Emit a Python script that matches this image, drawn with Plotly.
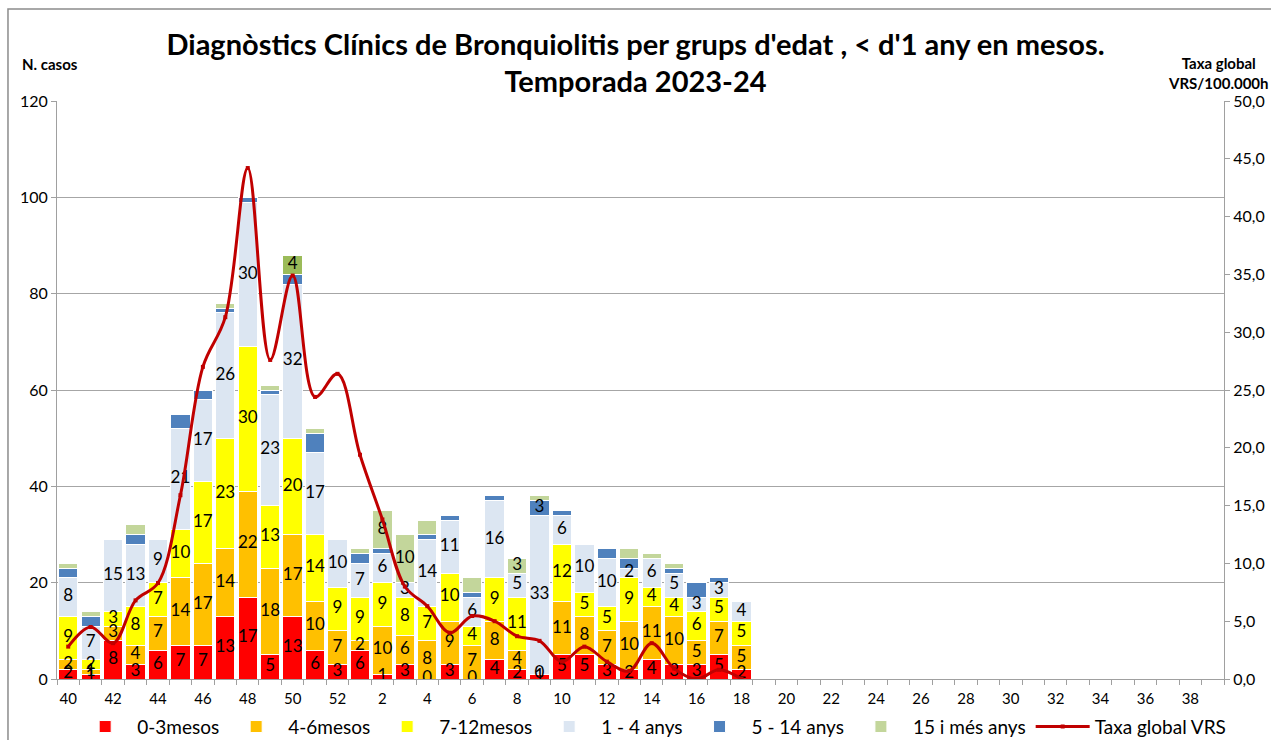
import plotly.graph_objects as go

# setmanes epidemiològiques 40-52 i 1-39
weeks = [str(w) for w in range(40, 53)] + [str(w) for w in range(1, 40)]

# casos per grup d'edat (setmanes 40 a 18)
m0_3 = [2, 1, 8, 3, 6, 7, 7, 13, 17, 5, 13, 6, 3, 6, 1, 3, 0, 3, 0, 4, 2, 1, 5, 5, 3, 2, 4, 3, 3, 5, 2]
m4_6 = [2, 1, 3, 4, 7, 14, 17, 14, 22, 18, 17, 10, 7, 2, 10, 6, 8, 9, 7, 8, 4, 0, 11, 8, 7, 10, 11, 10, 5, 7, 5]
m7_12 = [9, 2, 3, 8, 7, 10, 17, 23, 30, 13, 20, 14, 9, 9, 9, 8, 7, 10, 4, 9, 11, 0, 12, 5, 5, 9, 4, 4, 6, 5, 5]
a1_4 = [8, 7, 15, 13, 9, 21, 17, 26, 30, 23, 32, 17, 10, 7, 6, 3, 14, 11, 6, 16, 5, 33, 6, 10, 10, 2, 6, 5, 3, 3, 4]
a5_14 = [2, 2, 0, 2, 0, 3, 2, 1, 1, 1, 2, 4, 0, 2, 1, 0, 1, 1, 1, 1, 0, 3, 1, 0, 2, 2, 0, 1, 3, 1, 0]
a15 = [1, 1, 0, 2, 0, 0, 0, 1, 0, 1, 4, 1, 0, 1, 8, 10, 3, 0, 3, 0, 3, 1, 0, 0, 0, 2, 1, 1, 0, 0, 0]

# taxa global VRS /100.000h
taxa = [2.8, 4.5, 3.1, 6.8, 8.3, 15.9, 27.0, 31.3, 44.2, 27.6, 34.9, 24.4, 26.4, 19.4, 13.8, 8.0,
        6.3, 4.0, 5.45, 5.0, 3.7, 3.3, 1.5, 2.8, 1.5, 0.7, 3.1, 0.9, 0.0, 0.8, 0.0]

# etiquetes visibles per als grups petits
label_weeks_5_14 = ["9"]
label_weeks_15 = ["50", "2", "3", "8"]
hide_label_7_12 = ["9"]

series = [
    ("0-3mesos", m0_3, "#FF0000"),
    ("4-6mesos", m4_6, "#FFC000"),
    ("7-12mesos", m7_12, "#FFFF00"),
    ("1 - 4 anys", a1_4, "#DCE6F2"),
    ("5 - 14 anys", a5_14, "#4F81BD"),
    ("15 i més anys", a15, "#C3D69B"),
]

n = len(m0_3)
xs = list(range(n))
font = "Lato, 'Open Sans', sans-serif"

fig = go.Figure()
base = [0] * n
lab_x, lab_y, lab_t = [], [], []
for name, vals, col in series:
    colors = [col] * n
    if name == "15 i més anys":
        colors[weeks.index("50")] = "#9BBB59"
    fig.add_trace(go.Bar(x=xs, y=vals, name=name, marker=dict(color=colors, line=dict(color="white", width=1)),
                         hoverinfo="skip"))
    for i in range(n):
        wk = weeks[i]
        show = True
        if name == "5 - 14 anys":
            show = wk in label_weeks_5_14
        elif name == "15 i més anys":
            show = wk in label_weeks_15
        elif name == "7-12mesos":
            show = wk not in hide_label_7_12
        if show:
            lab_x.append(i)
            lab_y.append(base[i] + vals[i] / 2)
            lab_t.append(str(vals[i]))
        base[i] += vals[i]

fig.add_trace(go.Scatter(x=lab_x, y=lab_y, text=lab_t, mode="text", showlegend=False,
                         textfont=dict(size=17, color="black", family=font), hoverinfo="skip"))

fig.add_trace(go.Scatter(x=xs, y=taxa, name="Taxa global VRS", yaxis="y2", mode="lines+markers",
                         line=dict(color="#C00000", width=3, shape="spline", smoothing=1.0),
                         marker=dict(size=4, symbol="square", color="#C00000")))

tickvals = [i for i, w in enumerate(weeks) if int(w) % 2 == 0]
ticktext = [weeks[i] for i in tickvals]

fig.update_layout(
    width=1271, height=740,
    barmode="stack", bargap=0.14,
    plot_bgcolor="white", paper_bgcolor="white",
    font=dict(family=font, size=15, color="black"),
    margin=dict(l=57, r=47, t=101, b=61, autoexpand=False),
    title=dict(text="<b>Diagnòstics Clínics de Bronquiolitis per grups d'edat , < d'1 any en mesos.<br>Temporada 2023-24</b>",
               x=0.5, xanchor="center", xref="container", yref="container", y=0.926, yanchor="top",
               font=dict(size=29, family=font)),
    separators=",.",
    xaxis=dict(range=[-0.5, len(weeks) - 0.5], tickvals=tickvals, ticktext=ticktext, ticks="",
               showgrid=False, zeroline=False, showline=True, linecolor="#A0A0A0",
               tickfont=dict(size=15), ticklabelstandoff=6,
               minor=dict(tickmode="linear", tick0=-0.5, dtick=1, ticks="outside", ticklen=5,
                          tickcolor="#A0A0A0", showgrid=False)),
    yaxis=dict(range=[0, 120], dtick=20, showgrid=True, gridcolor="#A6A6A6", gridwidth=1,
               zeroline=False, showline=True, linecolor="#A0A0A0", ticks="outside", ticklen=5,
               tickcolor="#A0A0A0", tickfont=dict(size=16)),
    yaxis2=dict(range=[0, 50], dtick=5, tickformat=".1f", overlaying="y", side="right",
                showgrid=False, zeroline=False, showline=True, linecolor="#A0A0A0",
                ticks="outside", ticklen=5, tickcolor="#A0A0A0", tickfont=dict(size=16)),
    legend=dict(orientation="h", x=0.51, xanchor="center", yref="container", y=0.018, yanchor="middle",
                font=dict(size=19, family=font), traceorder="normal", itemwidth=54,
                tracegroupgap=0),
    showlegend=True,
)

fig.add_annotation(text="<b>N. casos</b>", xref="paper", yref="paper", x=-0.032, y=1.045,
                   xanchor="left", yanchor="bottom", showarrow=False, font=dict(size=15))
fig.add_annotation(text="<b>Taxa global<br>VRS/100.000h</b>", xref="paper", yref="paper", x=0.995,
                   y=1.012, xanchor="center", yanchor="bottom", showarrow=False,
                   font=dict(size=15), align="center")

# marc exterior del gràfic
fig.add_shape(type="rect", xref="paper", yref="paper", x0=-0.042, x1=1.1, y0=-0.2, y1=1.159,
              line=dict(color="#8C8C8C", width=1.5), fillcolor="rgba(0,0,0,0)", layer="below")

fig.write_html("out.html", config={"displayModeBar": False},
               post_script="document.body.style.margin='0';")
